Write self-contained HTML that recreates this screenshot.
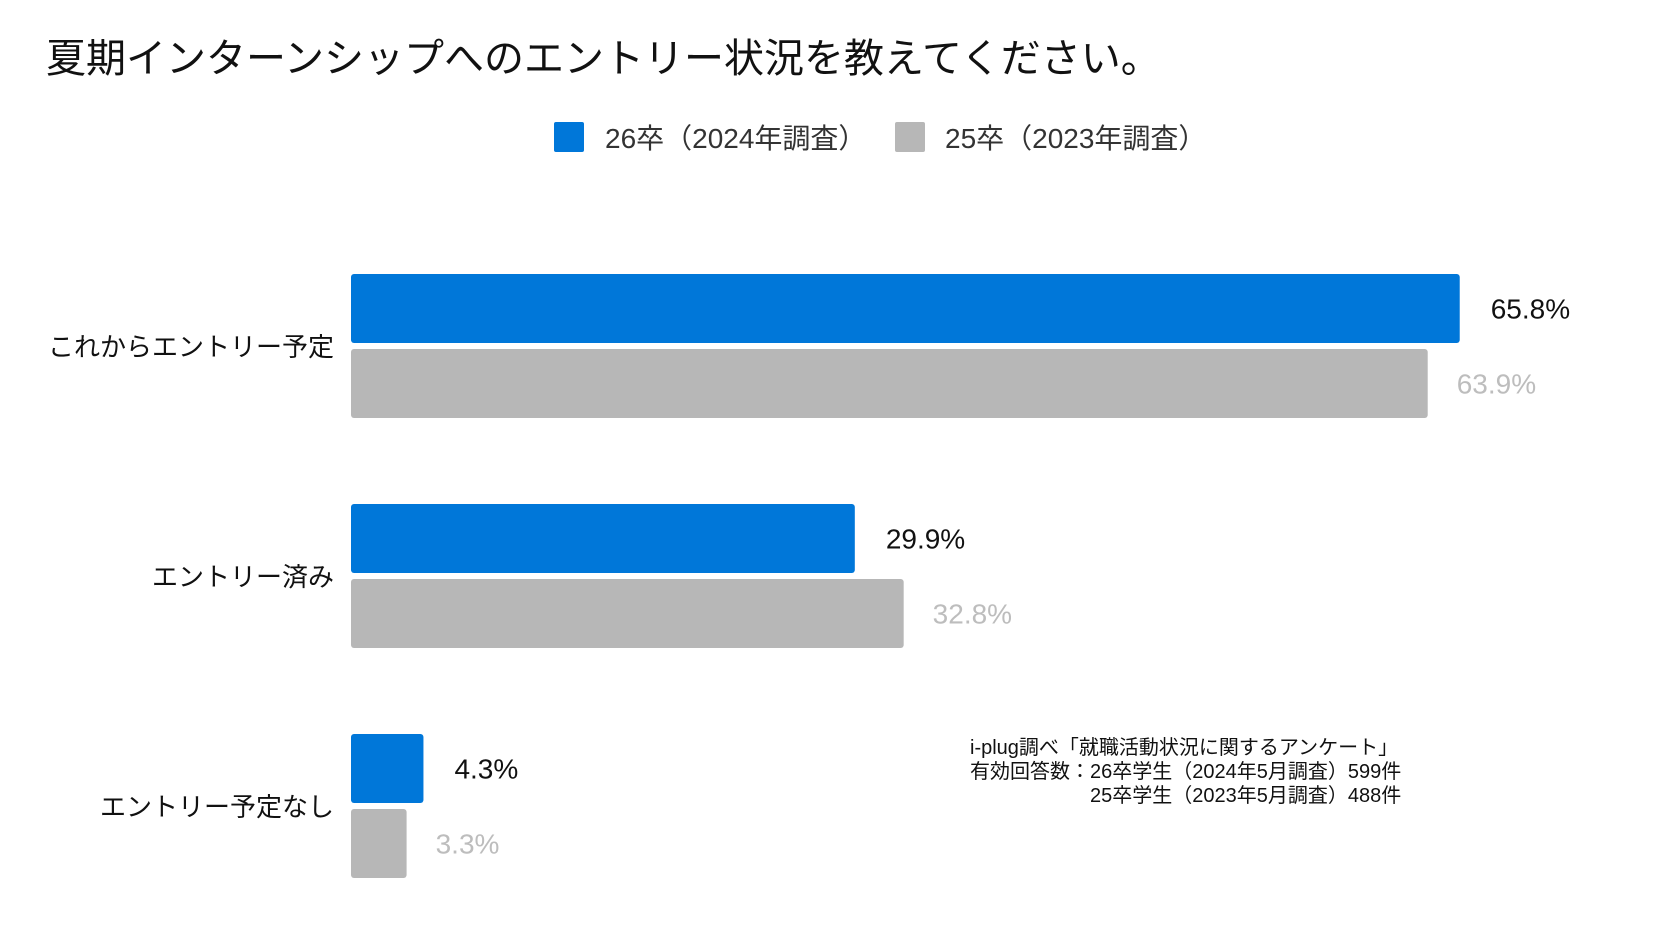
<!DOCTYPE html>
<html><head><meta charset="utf-8">
<style>
html,body{margin:0;padding:0;background:#fff;}
svg{display:block;font-family:"Liberation Sans","Noto Sans CJK JP",sans-serif;}
</style></head>
<body>
<svg id="chart" width="1668" height="936" viewBox="0 0 1668 936">
  <text x="46" y="72" font-size="40" fill="#111">夏期インターンシップへのエントリー状況を教えてください。</text>
  <g>
    <rect x="554" y="122" width="30" height="30" rx="2" fill="#0077D9"/>
    <text x="605" y="148" font-size="28" fill="#333">26卒（2024年調査）</text>
    <rect x="895" y="122" width="30" height="30" rx="2" fill="#B7B7B7"/>
    <text x="945" y="148" font-size="28" fill="#333">25卒（2023年調査）</text>
  </g>
  <g id="bars"></g>
  <g font-size="20" fill="#111">
    <text x="970" y="754">i-plug調べ「就職活動状況に関するアンケート」</text>
    <text x="970" y="778">有効回答数：26卒学生（2024年5月調査）599件</text>
    <text x="1090" y="802">25卒学生（2023年5月調査）488件</text>
  </g>
</svg>
<script>
const categories = ["これからエントリー予定", "エントリー済み", "エントリー予定なし"];
const series26 = [65.8, 29.9, 4.3];
const series25 = [63.9, 32.8, 3.3];
const valueLabels26 = ["65.8%", "29.9%", "4.3%"];
const valueLabels25 = ["63.9%", "32.8%", "3.3%"];

const NS = "http://www.w3.org/2000/svg";
const x0 = 351, pxPer = 16.85;
const groupTop0 = 274, groupPitch = 230, barH = 69, barGap = 6;
function xScale(v){ return x0 + v * pxPer; }
function groupY(i){ return groupTop0 + i * groupPitch; }
const g = document.getElementById('bars');
function mk(tag, attrs){ const e = document.createElementNS(NS, tag); for (const k in attrs) e.setAttribute(k, attrs[k]); g.appendChild(e); return e; }

categories.forEach((c, i) => {
  const y = groupY(i);
  const lab = mk('text', {x: 334, y: y + barH + barGap/2 + 10, 'font-size': 26, fill: '#111', 'text-anchor': 'end'});
  lab.textContent = c;
  
  

  const b1 = mk('rect', {x: x0, y: y, width: xScale(series26[i]) - x0, height: barH, rx: 3, fill: '#0077D9'});
  
  
  const t1 = mk('text', {x: xScale(series26[i]) + 31, y: y + barH/2 + 10, 'font-size': 28, fill: '#111'});
  t1.textContent = valueLabels26[i];
  
  

  const y2 = y + barH + barGap;
  const b2 = mk('rect', {x: x0, y: y2, width: xScale(series25[i]) - x0, height: barH, rx: 3, fill: '#B7B7B7'});
  
  
  const t2 = mk('text', {x: xScale(series25[i]) + 29, y: y2 + barH/2 + 10, 'font-size': 28, fill: '#BDBDBD'});
  t2.textContent = valueLabels25[i];
  
  
});
</script>
</body></html>
